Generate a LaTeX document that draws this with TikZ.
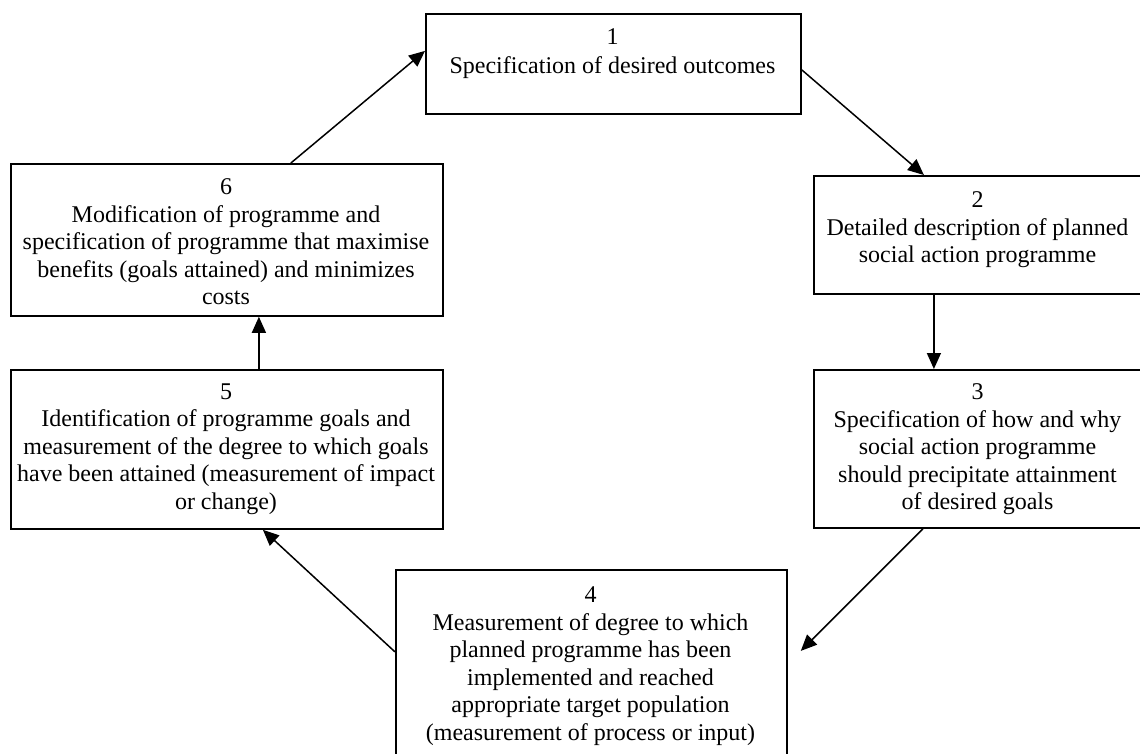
\documentclass[tikz,border=0pt]{standalone}
\usepackage{fontspec}
\setmainfont{Liberation Serif}
\usetikzlibrary{arrows.meta}
\begin{document}
\begin{tikzpicture}[x=1pt,y=-1pt,
  box/.style={draw, line width=1.8pt, inner sep=0pt, anchor=north west},
  lbl/.style={align=center, inner sep=0pt, anchor=north, font=\fontsize{24}{27.5}\selectfont},
  arr/.style={line width=1.5pt, -{Triangle[length=16pt,width=14pt]}}]
\useasboundingbox (0,0) rectangle (1140,754);
\node[box, minimum width=375pt, minimum height=100pt] (b1) at (425,13) {};
\node[box, minimum width=329pt, minimum height=118pt] (b2) at (813,175) {};
\node[box, minimum width=329pt, minimum height=158pt] (b3) at (813,369) {};
\node[box, minimum width=391pt, minimum height=189pt] (b4) at (395,569) {};
\node[box, minimum width=432pt, minimum height=159pt] (b5) at (10,369) {};
\node[box, minimum width=432pt, minimum height=152pt] (b6) at (10,163) {};
\node[lbl] (t1) at (612.5,28.5) {1\\[1.5pt]Specification of desired outcomes};
\node[lbl] (t2) at (977.5,191.5) {2\\Detailed description of planned\\social action programme};
\node[lbl] (t3) at (977.5,383.5) {3\\Specification of how and why\\social action programme\\should precipitate attainment\\of desired goals};
\node[lbl] (t4) at (590.5,586.5) {4\\Measurement of degree to which\\planned programme has been\\implemented and reached\\appropriate target population\\(measurement of process or input)};
\node[lbl] (t5) at (226,383.5) {5\\Identification of programme goals and\\measurement of the degree to which goals\\have been attained (measurement of impact\\or change)};
\node[lbl] (t6) at (226,178.5) {6\\Modification of programme and\\specification of programme that maximise\\benefits (goals attained) and minimizes\\costs};
\draw[arr] ([xshift=64pt]b6.north) -- ([yshift=13pt]b1.west);
\draw[arr] ([yshift=-6pt]b1.east) -- ([xshift=-54.5pt]b2.north);
\draw[arr] ([xshift=-44.5pt]b2.south) -- ([xshift=-44.5pt]b3.north);
\draw[arr] ([xshift=-55.5pt]b3.south) -- ([xshift=13pt,yshift=13.5pt]b4.east);
\draw[arr] ([yshift=12.5pt]b4.west) -- ([xshift=36pt]b5.south);
\draw[arr] ([xshift=32pt]b5.north) -- ([xshift=32pt]b6.south);
\end{tikzpicture}
\end{document}
